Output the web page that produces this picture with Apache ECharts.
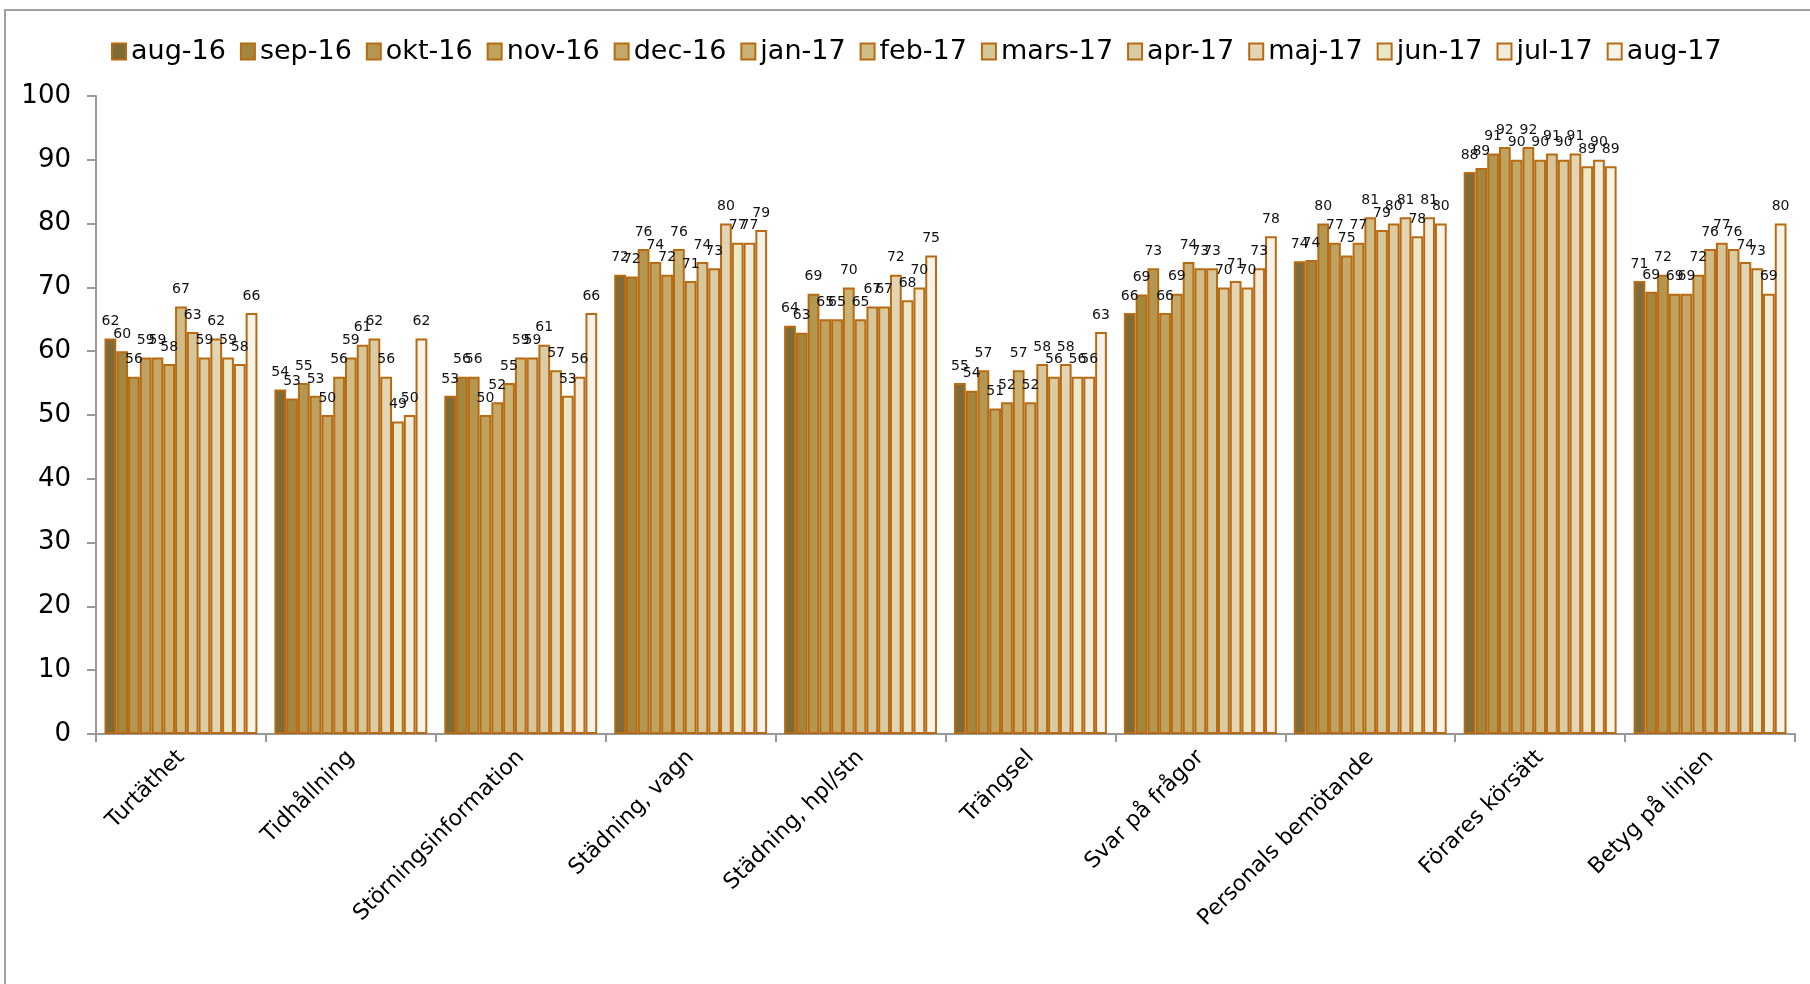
<!DOCTYPE html>
<html>
<head>
<meta charset="utf-8">
<script src="https://cdn.jsdelivr.net/npm/echarts@6/dist/echarts.min.js"></script>
<style>
html,body{margin:0;padding:0;background:#fff;}
#chart{width:1810px;height:984px;}
</style>
</head>
<body>
<div id="chart"></div>
<script>
var categories = ['Turtäthet','Tidhållning','Störningsinformation','Städning, vagn','Städning, hpl/stn','Trängsel','Svar på frågor','Personals bemötande','Förares körsätt','Betyg på linjen'];
var months = ['aug-16','sep-16','okt-16','nov-16','dec-16','jan-17','feb-17','mars-17','apr-17','maj-17','jun-17','jul-17','aug-17'];
var aug16 = [62,54,53,72,64,55,66,74.1,88.1,71];
var sep16 = [60,52.6,56,71.7,62.9,53.8,68.9,74.3,88.7,69.3];
var okt16 = [56,55,56,76,69,57,73,80,91,72];
var nov16 = [59,53,50,74,65,51,66,77,92,69];
var dec16 = [59,50,52,72,65,52,69,75,90,69];
var jan17 = [58,56,55,76,70,57,74,77,92,72];
var feb17 = [67,59,59,71,65,52,73,81,90,76];
var mar17 = [63,61,59,74,67,58,73,79,91,77];
var apr17 = [59,62,61,73,67,56,70,80,90,76];
var maj17 = [62,56,57,80,72,58,71,81,91,74];
var jun17 = [59,49,53,77,68,56,70,78,89,73];
var jul17 = [58,50,56,77,70,56,73,81,90,69];
var aug17 = [66,62,66,79,75,63,78,80,89,80];
var yTicks = [0,10,20,30,40,50,60,70,80,90,100];

var seriesValues = [aug16,sep16,okt16,nov16,dec16,jan17,feb17,mar17,apr17,maj17,jun17,jul17,aug17];
var colors = ['#7E6B37','#A4873F','#B39751','#BEA25F','#C3A867','#C9B274','#CFBC87','#D5C69B','#D9CBA3','#E1D5B5','#E9E8C8','#F1EBDC','#F6F3EA'];
var borderColor = '#B86B12';
var FONT = 'DejaVu Sans';

var series = months.map(function(m, i){
  return {
    name: m,
    type: 'bar',
    data: seriesValues[i],
    barGap: '0%',
    barCategoryGap: '10%',
    itemStyle: {color: colors[i], borderColor: borderColor, borderWidth: 2},
    label: {
      show: true,
      position: 'top',
      distance: 10,
      fontFamily: FONT,
      fontSize: 14,
      color: '#111',
      formatter: function(p){ return Math.round(p.value); }
    },
    emphasis: {disabled: true},
    animation: false
  };
});

var chart = echarts.init(document.getElementById('chart'), null, {renderer: 'canvas'});
chart.setOption({
  backgroundColor: '#fff',
  animation: false,
  color: colors,
  graphic: [{
    type: 'rect',
    shape: {x: 5, y: 10, width: 1900, height: 1100},
    style: {fill: 'none', stroke: '#A0A0A0', lineWidth: 2},
    silent: true,
    z: -1
  }],
  legend: {
    data: months.map(function(m, i){ return {name: m, itemStyle: {color: colors[i], borderColor: borderColor, borderWidth: 2}}; }),
    left: 106,
    top: 33,
    itemWidth: 14,
    itemHeight: 16,
    itemGap: 14,
    icon: 'rect',
    textStyle: {fontFamily: FONT, fontSize: 27, color: '#000'},
    selectedMode: false
  },
  grid: {left: 96, right: 15, top: 96, bottom: 250, containLabel: false},
  xAxis: {
    type: 'category',
    data: categories,
    axisLine: {show: true, lineStyle: {color: '#999', width: 2}},
    axisTick: {show: true, length: 8, lineStyle: {color: '#999', width: 2}},
    axisLabel: {interval: 0, rotate: 45, margin: 20, fontFamily: FONT, fontSize: 22, color: '#000'},
    splitLine: {show: false}
  },
  yAxis: {
    type: 'value',
    min: yTicks[0],
    max: yTicks[yTicks.length - 1],
    interval: 10,
    axisLine: {show: true, lineStyle: {color: '#999', width: 2}},
    axisTick: {show: true, length: 9, lineStyle: {color: '#999', width: 2}},
    axisLabel: {margin: 25, fontFamily: FONT, fontSize: 26, color: '#000'},
    splitLine: {show: false}
  },
  series: series
});
</script>
</body>
</html>
